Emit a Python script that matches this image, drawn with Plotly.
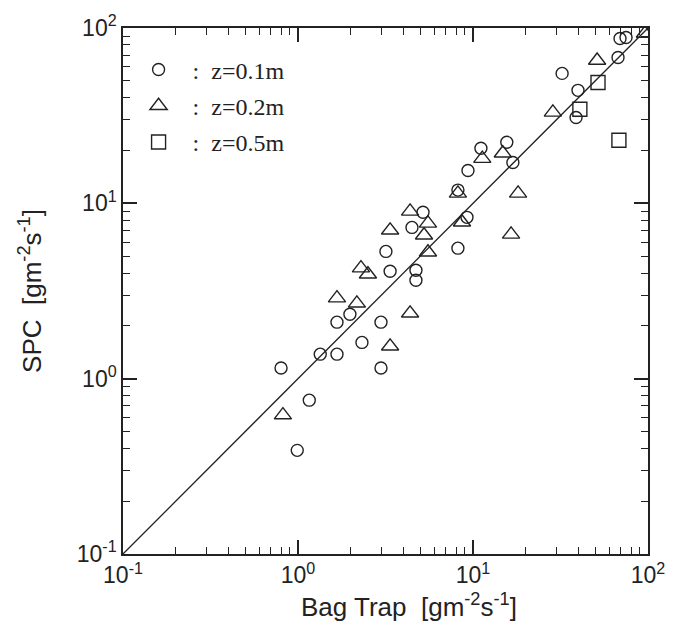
import plotly.graph_objects as go

# z = 0.1 m (circles)
bag_01 = [0.80, 1.16, 0.99, 1.34, 1.67, 1.67, 1.98, 2.32, 2.98, 2.98, 3.18, 3.36,
          4.72, 4.72, 4.48, 5.18, 8.20, 8.20, 9.24, 9.36, 11.1, 15.6, 16.9,
          32.3, 39.8, 38.8, 67.4, 69.2, 74.9]
spc_01 = [1.15, 0.754, 0.39, 1.38, 1.38, 2.10, 2.33, 1.61, 2.10, 1.15, 5.32, 4.10,
          4.15, 3.64, 7.29, 8.89, 5.55, 11.9, 8.32, 15.4, 20.6, 22.3, 17.1,
          55.1, 44.1, 30.9, 67.9, 87.1, 88.3]

# z = 0.2 m (triangles)
bag_02 = [0.82, 1.67, 2.17, 2.29, 2.51, 3.36, 3.36, 4.37, 4.37, 5.53, 5.25, 5.53,
          8.20, 8.65, 11.3, 14.8, 18.1, 16.5, 28.6, 51.2, 96.0]
spc_02 = [0.62, 2.88, 2.69, 4.27, 3.94, 7.02, 1.53, 2.36, 9.0, 7.69, 6.58, 5.26,
          11.4, 7.8, 18.0, 19.3, 11.4, 6.65, 33.0, 65.3, 93.0]

# z = 0.5 m (squares)
bag_05 = [40.8, 51.8, 68.2]
spc_05 = [34.4, 48.9, 22.9]

line_xy = [0.1, 100]

tick_vals = [0.1, 1, 10, 100]
tick_text = ["10<sup>-1</sup>", "10<sup>0</sup>", "10<sup>1</sup>", "10<sup>2</sup>"]

x_title = "Bag Trap  [gm<sup>-2</sup>s<sup>-1</sup>]"
y_title = "SPC  [gm<sup>-2</sup>s<sup>-1</sup>]"

SANS = "Liberation Sans, Arial, sans-serif"
SERIF = "Liberation Serif, Times New Roman, serif"

fig = go.Figure()

fig.add_trace(go.Scatter(x=line_xy, y=line_xy, mode="lines",
                         line=dict(color="#222", width=1.3), showlegend=False))

fig.add_trace(go.Scatter(x=bag_01, y=spc_01, mode="markers", name=":  z=0.1m",
                         legendgroup="a",
                         marker=dict(symbol="circle-open", size=12, color="#222",
                                     line=dict(width=1.4))))
fig.add_trace(go.Scatter(x=bag_02, y=spc_02, mode="markers", name=":  z=0.2m",
                         legendgroup="b",
                         marker=dict(symbol="triangle-up-open", size=15, color="#222",
                                     line=dict(width=1.4))))
fig.add_trace(go.Scatter(x=bag_05, y=spc_05, mode="markers", name=":  z=0.5m",
                         legendgroup="c",
                         marker=dict(symbol="square-open", size=14, color="#222",
                                     line=dict(width=1.4))))

axis_common = dict(
    type="log", range=[-1, 2], tickvals=tick_vals, ticktext=tick_text,
    ticks="inside", ticklen=14, tickwidth=1.5, tickcolor="#222",
    showline=True, linecolor="#222", linewidth=1.5, mirror="allticks",
    showgrid=False, zeroline=False, automargin=False,
    tickfont=dict(family=SANS, size=23, color="#222"),
    minor=dict(ticks="inside", ticklen=7, tickwidth=1.2, tickcolor="#222",
               dtick="D1", showgrid=False),
)

fig.update_xaxes(**axis_common)
fig.update_yaxes(**axis_common,
                 title=dict(text=y_title,
                            font=dict(family=SANS, size=26, color="#222"), standoff=28))

fig.add_annotation(text=x_title, xref="paper", yref="paper", x=0.545, y=-0.097,
                   xanchor="center", yanchor="middle", showarrow=False,
                   font=dict(family=SANS, size=26, color="#222"))

fig.update_layout(
    width=670, height=623,
    margin=dict(l=115, r=30, t=20, b=77),
    paper_bgcolor="white", plot_bgcolor="white",
    legend=dict(x=0.003, y=0.963, xanchor="left", yanchor="top",
                bgcolor="rgba(0,0,0,0)", tracegroupgap=2, itemwidth=58,
                font=dict(family=SERIF, size=24, color="#222")),
)

fig.write_html("out.html")
